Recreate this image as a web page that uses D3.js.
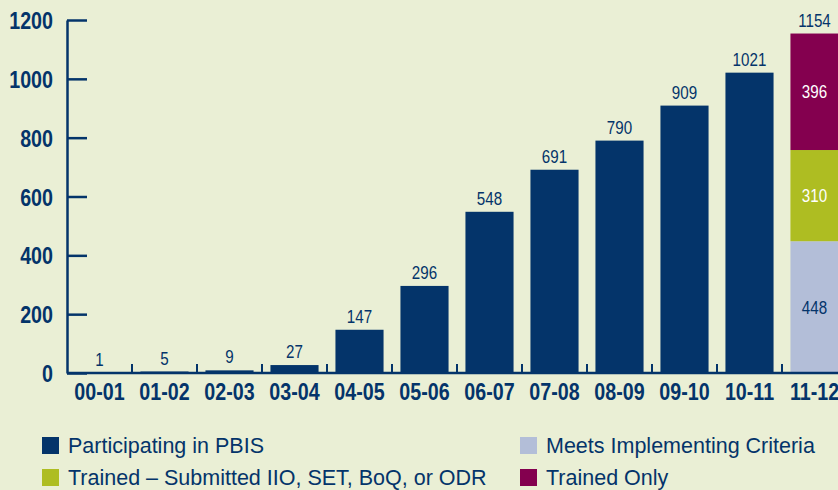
<!DOCTYPE html>
<html>
<head>
<meta charset="utf-8">
<script src="https://cdn.jsdelivr.net/npm/d3@7"></script>
<style>
  html, body { margin: 0; padding: 0; background: #eaefd5; overflow: hidden; }
  svg { display: block; }
</style>
</head>
<body>
<svg id="chart" width="838" height="490"></svg>
<script>
// ---- data ----
const categories = ["00-01","01-02","02-03","03-04","04-05","05-06","06-07","07-08","08-09","09-10","10-11","11-12"];
const participating = [1, 5, 9, 27, 147, 296, 548, 691, 790, 909, 1021, 0];
const meetsImplementing = [0,0,0,0,0,0,0,0,0,0,0, 448];
const trainedSubmitted  = [0,0,0,0,0,0,0,0,0,0,0, 310];
const trainedOnly       = [0,0,0,0,0,0,0,0,0,0,0, 396];
const yTicks = [0, 200, 400, 600, 800, 1000, 1200];
const seriesKeys = ["participating", "meets", "submitted", "trainedOnly"];
const legendLabels = {
  participating: "Participating in PBIS",
  meets: "Meets Implementing Criteria",
  submitted: "Trained \u2013 Submitted IIO, SET, BoQ, or ODR",
  trainedOnly: "Trained Only"
};

// ---- style ----
const NAVY = "#04346a";
const colors = { participating: NAVY, meets: "#b3bed8", submitted: "#aebd22", trainedOnly: "#84004f" };
const innerLabelColor = { meets: NAVY, submitted: "#ffffff", trainedOnly: "#ffffff" };

function hasFont(name) {
  const c = document.createElement("canvas").getContext("2d");
  const s = "mmmmmmlli1200WWw";
  c.font = "72px monospace";
  const a = c.measureText(s).width;
  c.font = `72px "${name}", monospace`;
  const b = c.measureText(s).width;
  return Math.abs(a - b) > 0.5;
}
let FONT, SX;
if (hasFont("Liberation Sans Narrow")) { FONT = '"Liberation Sans Narrow"'; SX = 1; }
else { FONT = '"Liberation Sans", Arial, sans-serif'; SX = 0.82; }
const LEGEND_FONT = '"Liberation Sans", Arial, sans-serif';

const rows = categories.map((c, i) => ({
  cat: c,
  participating: participating[i],
  meets: meetsImplementing[i],
  submitted: trainedSubmitted[i],
  trainedOnly: trainedOnly[i]
}));
const stacked = d3.stack().keys(seriesKeys)(rows);

const svg = d3.select("#chart");
svg.append("rect").attr("width", 838).attr("height", 490).attr("fill", "#eaefd5");

const x0 = 67, step = 65;
const x = d3.scaleBand().domain(categories)
  .range([x0, x0 + step * categories.length])
  .paddingInner(0.26).paddingOuter(0.13);
const y = d3.scaleLinear().domain([0, 1200]).range([373, 20]);

// bars
const g = svg.append("g");
stacked.forEach(s => {
  g.selectAll(null).data(s.filter(d => d[1] - d[0] > 0)).enter().append("rect")
    .attr("x", d => x(d.data.cat))
    .attr("width", x.bandwidth())
    .attr("y", d => y(d[1]))
    .attr("height", d => y(d[0]) - y(d[1]))
    .attr("fill", colors[s.key]);
});

// labels for participating bars
g.selectAll(null).data(rows.filter(r => r.participating > 0)).enter().append("text")
  .attr("class", "narrow")
  .attr("x", d => x(d.cat) + x.bandwidth() / 2)
  .attr("y", d => y(d.participating) - 7)
  .attr("text-anchor", "middle")
  .attr("fill", NAVY)
  .attr("font-size", 18.5)
  .text(d => d.participating);

// inner labels for stacked segments
stacked.filter(s => s.key !== "participating").forEach(s => {
  g.selectAll(null).data(s.filter(d => d[1] - d[0] > 0)).enter().append("text")
    .attr("class", "narrow")
    .attr("x", d => x(d.data.cat) + x.bandwidth() / 2)
    .attr("y", d => (y(d[0]) + y(d[1])) / 2)
    .attr("dy", "0.36em")
    .attr("text-anchor", "middle")
    .attr("fill", innerLabelColor[s.key])
    .attr("font-size", 18.5)
    .text(d => d[1] - d[0]);
});
// totals for stacked
const lastStack = stacked[stacked.length - 1];
g.selectAll(null).data(lastStack.filter(d => d.data.meets + d.data.submitted + d.data.trainedOnly > 0)).enter().append("text")
  .attr("class", "narrow")
  .attr("x", d => x(d.data.cat) + x.bandwidth() / 2)
  .attr("y", d => y(d[1]) - 7)
  .attr("text-anchor", "middle")
  .attr("fill", NAVY)
  .attr("font-size", 18.5)
  .text(d => d[1]);

// y axis
const yAxis = svg.append("g").attr("transform", `translate(${x0},0)`)
  .call(d3.axisLeft(y).tickValues(yTicks).tickFormat(d3.format("d"))
    .tickSizeInner(-20).tickSizeOuter(0).tickPadding(14));
yAxis.select(".domain").attr("stroke", NAVY).attr("stroke-width", 2.5);
yAxis.selectAll(".tick line").attr("stroke", NAVY).attr("stroke-width", 2.5);
yAxis.selectAll(".tick text").attr("class", "narrow").attr("fill", NAVY).attr("font-size", 24).attr("font-weight", "bold").attr("dy", "0.36em");

// x axis
const xAxis = svg.append("g").attr("transform", `translate(0,${y(0)})`)
  .call(d3.axisBottom(x).tickSize(0).tickPadding(10));
xAxis.select(".domain").remove();
xAxis.append("line").attr("x1", x0).attr("x2", x0 + step * categories.length)
  .attr("stroke", NAVY).attr("stroke-width", 2.5);
xAxis.selectAll(".tick text").attr("class", "narrow").attr("fill", NAVY).attr("font-size", 24).attr("font-weight", "bold").attr("dy", "0.72em");
// boundary ticks between bands
xAxis.selectAll(null).data(categories.slice(1)).enter().append("line")
  .attr("x1", d => x(d) - x.step() * x.paddingInner() / 2)
  .attr("x2", d => x(d) - x.step() * x.paddingInner() / 2)
  .attr("y1", 0).attr("y2", -9)
  .attr("stroke", NAVY).attr("stroke-width", 2);

// legend
const legendPos = [
  { key: "participating", x: 42, y: 437 },
  { key: "submitted", x: 42, y: 469 },
  { key: "meets", x: 520, y: 437 },
  { key: "trainedOnly", x: 520, y: 469 }
];
const lg = svg.append("g");
legendPos.forEach(p => {
  lg.append("rect").attr("x", p.x).attr("y", p.y).attr("width", 17).attr("height", 17).attr("fill", colors[p.key]);
  lg.append("text").attr("x", p.x + 26).attr("y", p.y + 16)
    .attr("font-family", LEGEND_FONT)
    .attr("fill", NAVY).attr("font-size", 21.5).text(legendLabels[p.key]);
});

// fonts + optional horizontal condensing
svg.selectAll("text.narrow").attr("font-family", FONT);
if (SX !== 1) {
  svg.selectAll("text.narrow").each(function() {
    const t = d3.select(this);
    const xv = +t.attr("x") || 0;
    t.attr("x", xv / SX).attr("transform", `scale(${SX},1)`);
  });
}
</script>
</body>
</html>
